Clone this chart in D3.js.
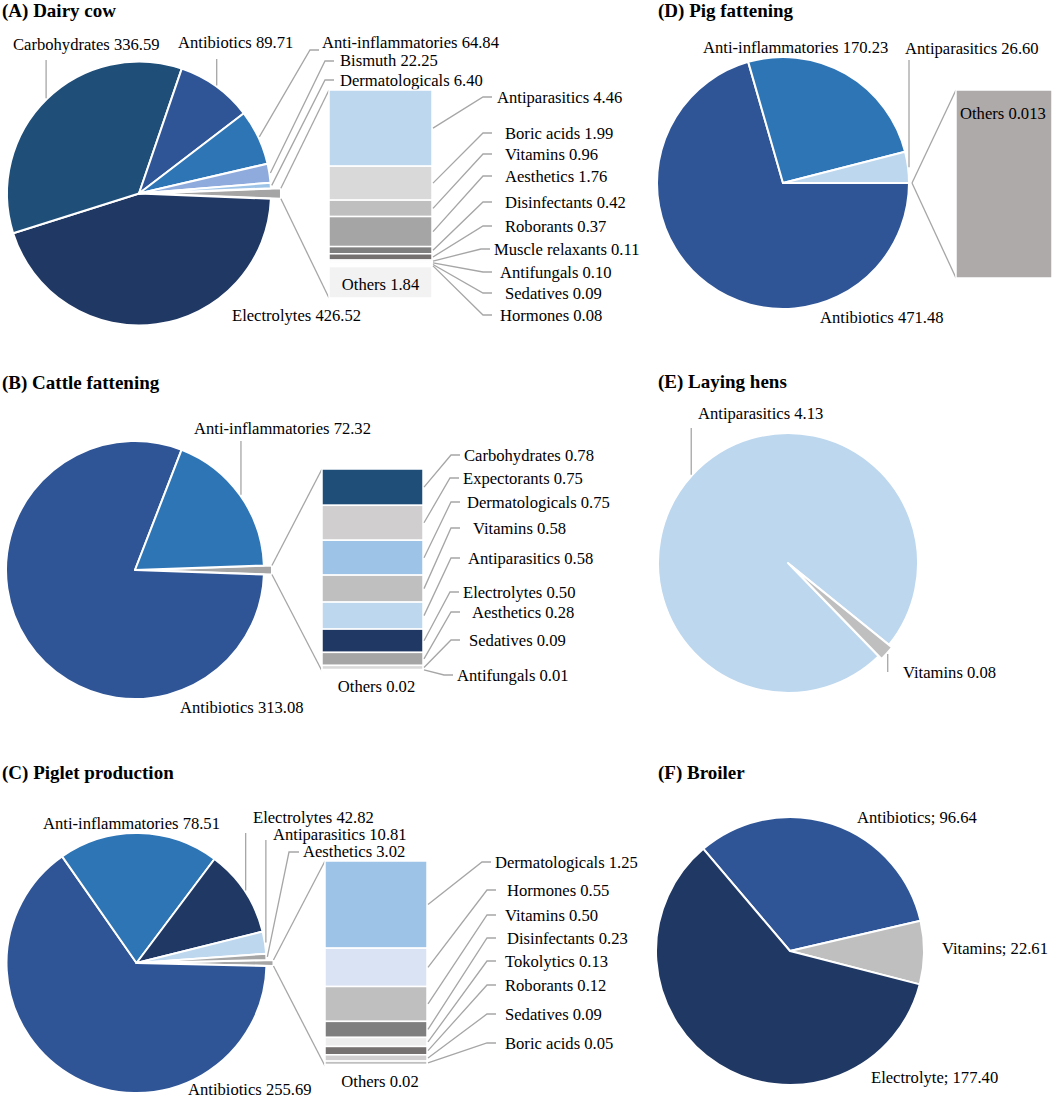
<!DOCTYPE html>
<html>
<head>
<meta charset="utf-8">
<script src="https://cdn.jsdelivr.net/npm/d3@7"></script>
<style>
body { margin: 0; background: #fff; }
svg text { font-family: 'Liberation Serif', 'Times New Roman', serif; fill: #000; }
.title { font-weight: bold; font-size: 19px; }
.label { font-size: 16.6px; }
.leader { fill: none; stroke: #a6a6a6; stroke-width: 1.3; }
</style>
</head>
<body>
<svg id="chart" width="1052" height="1100"></svg>
<script>
// The data
// (A) Dairy cow
var dairyPieNames = ['Electrolytes', 'Carbohydrates', 'Antibiotics', 'Anti-inflammatories', 'Bismuth', 'Dermatologicals'];
var dairyPieValues = [426.52, 336.59, 89.71, 64.84, 22.25, 6.40];
var dairyBarNames = ['Antiparasitics', 'Boric acids', 'Vitamins', 'Aesthetics', 'Disinfectants', 'Roborants', 'Muscle relaxants', 'Antifungals', 'Sedatives', 'Hormones', 'Others'];
var dairyBarValues = [4.46, 1.99, 0.96, 1.76, 0.42, 0.37, 0.11, 0.10, 0.09, 0.08, 1.84];
// (B) Cattle fattening
var cattlePieNames = ['Antibiotics', 'Anti-inflammatories'];
var cattlePieValues = [313.08, 72.32];
var cattleBarNames = ['Carbohydrates', 'Expectorants', 'Dermatologicals', 'Vitamins', 'Antiparasitics', 'Electrolytes', 'Aesthetics', 'Sedatives', 'Antifungals', 'Others'];
var cattleBarValues = [0.78, 0.75, 0.75, 0.58, 0.58, 0.50, 0.28, 0.09, 0.01, 0.02];
// (C) Piglet production
var pigletPieNames = ['Antibiotics', 'Anti-inflammatories', 'Electrolytes', 'Antiparasitics', 'Aesthetics'];
var pigletPieValues = [255.69, 78.51, 42.82, 10.81, 3.02];
var pigletBarNames = ['Dermatologicals', 'Hormones', 'Vitamins', 'Disinfectants', 'Tokolytics', 'Roborants', 'Sedatives', 'Boric acids', 'Others'];
var pigletBarValues = [1.25, 0.55, 0.50, 0.23, 0.13, 0.12, 0.09, 0.05, 0.02];
// (D) Pig fattening
var pigPieNames = ['Antibiotics', 'Anti-inflammatories', 'Antiparasitics'];
var pigPieValues = [471.48, 170.23, 26.60];
var pigBarNames = ['Others'];
var pigBarValues = [0.013];
// (E) Laying hens
var henPieNames = ['Antiparasitics', 'Vitamins'];
var henPieValues = [4.13, 0.08];
// (F) Broiler
var broilerPieNames = ['Antibiotics', 'Vitamins', 'Electrolyte'];
var broilerPieValues = [96.64, 22.61, 177.40];

// Colours
var othersColor = '#a5a5a5';
var dairyPieColors = ['#203864', '#1f4e79', '#2f5597', '#2e75b6', '#8faadc', '#9dc3e6'];
var dairyBarColors = ['#bdd7ee', '#d9d9d9', '#bfbfbf', '#a5a5a5', '#7f7f7f', '#767171', '#e7e6e6', '#f2f2f2', '#ededed', '#f7f7f7', '#f2f2f2'];
var cattlePieColors = ['#2f5597', '#2e75b6'];
var cattleBarColors = ['#1f4e79', '#d0cece', '#9dc3e6', '#bfbfbf', '#bdd7ee', '#203864', '#a5a5a5', '#d9d9d9', '#f2f2f2', '#e7e6e6'];
var pigletPieColors = ['#2f5597', '#2e75b6', '#203864', '#bdd7ee', '#a5a5a5'];
var pigletBarColors = ['#9dc3e6', '#dae3f3', '#bfbfbf', '#7f7f7f', '#ededed', '#767171', '#d0cece', '#bfbfbf', '#e7e6e6'];
var pigPieColors = ['#2f5597', '#2e75b6', '#bdd7ee'];
var pigBarColors = ['#aeaaaa'];
var henPieColors = ['#bdd7ee', '#bfbfbf'];
var broilerPieColors = ['#2f5597', '#bfbfbf', '#203864'];

// The layout of each panel
var panels = [
  {id: 'A', title: '(A) Dairy cow', titleX: 2, titleY: 17,
   pieNames: dairyPieNames, pieValues: dairyPieValues, pieColors: dairyPieColors,
   barNames: dairyBarNames, barValues: dairyBarValues, barColors: dairyBarColors,
   cx: 139, cy: 193.5, r: 132, explode: {Others: 10},
   barX: 329, barW: 103, barTop: 90, barBottom: 298, othersLabel: 'inside', barLineEnd: 492,
   barLabelPos: [[497, 97], [505, 133], [505, 154], [505, 176], [505, 202], [505, 226], [494, 249], [500, 272], [505, 293], [500, 315]],
   pieLabels: {
     'Electrolytes': {x: 232, y: 315},
     'Carbohydrates': {x: 13, y: 44, v: 60},
     'Antibiotics': {x: 178, y: 42, v: 59},
     'Anti-inflammatories': {x: 322, y: 42, pts: [[310, 50], [319, 50]]},
     'Bismuth': {x: 340, y: 60, pts: [[325, 61], [334, 61]]},
     'Dermatologicals': {x: 340, y: 80, pts: [[325, 80], [334, 80]]}
   }},
  {id: 'B', title: '(B) Cattle fattening', titleX: 2, titleY: 389,
   pieNames: cattlePieNames, pieValues: cattlePieValues, pieColors: cattlePieColors,
   barNames: cattleBarNames, barValues: cattleBarValues, barColors: cattleBarColors,
   cx: 135, cy: 570, r: 129, explode: {Others: 8},
   barX: 322, barW: 101, barTop: 469, barBottom: 671, othersLabel: 'below', barLineEnd: 460,
   barLabelPos: [[464, 455], [463, 478], [467, 502], [473, 528], [468, 558], [463, 592], [472, 612], [469, 640], [457, 675]],
   pieLabels: {
     'Antibiotics': {x: 180, y: 707},
     'Anti-inflammatories': {x: 194, y: 428, v: 441}
   }},
  {id: 'C', title: '(C) Piglet production', titleX: 2, titleY: 779,
   pieNames: pigletPieNames, pieValues: pigletPieValues, pieColors: pigletPieColors,
   barNames: pigletBarNames, barValues: pigletBarValues, barColors: pigletBarColors,
   cx: 136.5, cy: 963, r: 130, explode: {Others: 7},
   barX: 325, barW: 102, barTop: 861, barBottom: 1066, othersLabel: 'below', barLineEnd: 496,
   barLabelPos: [[495, 862], [507, 890], [505, 915], [507, 938], [505, 961], [505, 985], [505, 1014], [505, 1043]],
   pieLabels: {
     'Antibiotics': {x: 188, y: 1089},
     'Anti-inflammatories': {x: 43, y: 823},
     'Electrolytes': {x: 253, y: 817, v: 833},
     'Antiparasitics': {x: 273, y: 834, v: 840},
     'Aesthetics': {x: 303, y: 851, pts: [[289, 852], [299, 852]]}
   }},
  {id: 'D', title: '(D) Pig fattening', titleX: 658, titleY: 17,
   pieNames: pigPieNames, pieValues: pigPieValues, pieColors: pigPieColors,
   barNames: pigBarNames, barValues: pigBarValues, barColors: pigBarColors,
   cx: 783, cy: 183, r: 126, explode: {Others: 3},
   barX: 956, barW: 96, barTop: 90, barBottom: 278, othersLabel: 'insideTop', barLineEnd: 0,
   barLabelPos: [],
   pieLabels: {
     'Antibiotics': {x: 820, y: 317},
     'Anti-inflammatories': {x: 703, y: 47},
     'Antiparasitics': {x: 905, y: 48, v: 60}
   }},
  {id: 'E', title: '(E) Laying hens', titleX: 658, titleY: 388,
   pieNames: henPieNames, pieValues: henPieValues, pieColors: henPieColors,
   cx: 788, cy: 563, r: 130, startAngle: 135.8, explode: {Vitamins: 4},
   pieLabels: {
     'Antiparasitics': {x: 698, y: 413, v: 428},
     'Vitamins': {x: 903, y: 672, v: 672}
   }},
  {id: 'F', title: '(F) Broiler', titleX: 658, titleY: 779, sep: '; ',
   pieNames: broilerPieNames, pieValues: broilerPieValues, pieColors: broilerPieColors,
   cx: 790, cy: 951, r: 134, startAngle: -40.3, explode: {},
   pieLabels: {
     'Antibiotics': {x: 857, y: 817},
     'Vitamins': {x: 942, y: 948},
     'Electrolyte': {x: 871, y: 1077}
   }}
];

var deg = Math.PI / 180;
var line = d3.line();
// keep the number of decimals of the source, at least two
var fmt = function(v) { var dec = (String(v).split('.')[1] || '').length; return v.toFixed(Math.max(2, dec)); };

var svg = d3.select('#chart');

panels.forEach(function(p) {
  var g = svg.append('g').attr('class', 'panel panel-' + p.id);
  var sep = p.sep || ' ';

  g.append('text').attr('class', 'title').attr('x', p.titleX).attr('y', p.titleY).text(p.title);

  var slices = p.pieNames.map(function(n, i) { return {name: n, value: p.pieValues[i], color: p.pieColors[i]}; });
  var startAngle = (p.startAngle || 0) * deg;
  var othersValue = 0;
  if (p.barNames) {
    // bar of pie: the "others" slice sits centred at 3 o'clock
    othersValue = d3.sum(p.barValues);
    var total = d3.sum(p.pieValues) + othersValue;
    startAngle = Math.PI / 2 - othersValue / total * Math.PI;
    slices.unshift({name: 'Others', value: othersValue, color: othersColor, others: true});
  }

  var pie = d3.pie().sort(null).value(function(d) { return d.value; })
    .startAngle(startAngle).endAngle(startAngle + 2 * Math.PI);
  var arc = d3.arc().innerRadius(0).outerRadius(p.r);
  var arcs = pie(slices);
  arcs.forEach(function(a) {
    var e = p.explode[a.data.name] || 0;
    a.mid = (a.startAngle + a.endAngle) / 2;
    a.dx = e * Math.sin(a.mid);
    a.dy = -e * Math.cos(a.mid);
  });

  g.selectAll('path.slice').data(arcs).enter().append('path').attr('class', 'slice')
    .attr('transform', function(d) { return 'translate(' + [p.cx + d.dx, p.cy + d.dy] + ')'; })
    .attr('d', arc).attr('fill', function(d) { return d.data.color; })
    .attr('stroke', '#fff').attr('stroke-width', 2).attr('stroke-linejoin', 'round');

  // slice labels and their leader lines
  arcs.forEach(function(a) {
    var lab = p.pieLabels[a.data.name];
    if (!lab) return;
    var ex = p.cx + a.dx + (p.r + 1) * Math.sin(a.mid), ey = p.cy + a.dy - (p.r + 1) * Math.cos(a.mid);
    var pts = null;
    if (lab.v !== undefined) pts = [[ex, ey], [ex, lab.v]];
    if (lab.pts) pts = [[ex, ey]].concat(lab.pts);
    if (pts) g.append('path').attr('class', 'leader').attr('d', line(pts));
    g.append('text').attr('class', 'label').attr('x', lab.x).attr('y', lab.y).attr('dy', '0.35em')
      .text(a.data.name + sep + fmt(a.data.value));
  });

  if (!p.barNames) return;

  // connector lines from the exploded slice to the bar
  var o = arcs[0];
  var ox = p.cx + o.dx, oy = p.cy + o.dy;
  g.append('path').attr('class', 'leader')
    .attr('d', line([[ox + p.r * Math.sin(o.startAngle), oy - p.r * Math.cos(o.startAngle)], [p.barX, p.barTop]]));
  g.append('path').attr('class', 'leader')
    .attr('d', line([[ox + p.r * Math.sin(o.endAngle), oy - p.r * Math.cos(o.endAngle)], [p.barX, p.barBottom]]));

  // the stacked bar
  var yBar = d3.scaleLinear().domain([0, othersValue]).range([p.barTop, p.barBottom]);
  var cum = 0;
  var segs = p.barNames.map(function(n, i) {
    var s = {name: n, value: p.barValues[i], color: p.barColors[i], y0: cum};
    cum += p.barValues[i];
    s.y1 = cum;
    return s;
  });
  g.selectAll('rect.seg').data(segs).enter().append('rect').attr('class', 'seg')
    .attr('x', p.barX).attr('width', p.barW)
    .attr('y', function(d) { return yBar(d.y0); })
    .attr('height', function(d) { return yBar(d.y1) - yBar(d.y0); })
    .attr('fill', function(d) { return d.color; })
    .attr('stroke', '#fff').attr('stroke-width', 1.5);

  var k = 0;
  segs.forEach(function(s) {
    var label = s.name + ' ' + fmt(s.value);
    var midY = (yBar(s.y0) + yBar(s.y1)) / 2;
    if (s.name === 'Others') {
      if (p.othersLabel === 'inside') {
        g.append('text').attr('class', 'label').attr('x', p.barX + p.barW / 2).attr('y', midY + 2).attr('dy', '0.35em')
          .attr('text-anchor', 'middle').text(label);
      } else if (p.othersLabel === 'below') {
        g.append('text').attr('class', 'label').attr('x', p.barX + p.barW / 2 + 4).attr('y', p.barBottom + 15).attr('dy', '0.35em')
          .attr('text-anchor', 'middle').text(label);
      } else {
        g.append('text').attr('class', 'label').attr('x', p.barX + 4).attr('y', p.barTop + 23).attr('dy', '0.35em').text(label);
      }
      return;
    }
    var pos = p.barLabelPos[k++];
    var endX = Math.min(p.barLineEnd, pos[0] - 4);
    g.append('path').attr('class', 'leader')
      .attr('d', line([[p.barX + p.barW + 1, midY], [endX - 9, pos[1]], [endX, pos[1]]]));
    g.append('text').attr('class', 'label').attr('x', pos[0]).attr('y', pos[1]).attr('dy', '0.35em').text(label);
  });
});
</script>
</body>
</html>
